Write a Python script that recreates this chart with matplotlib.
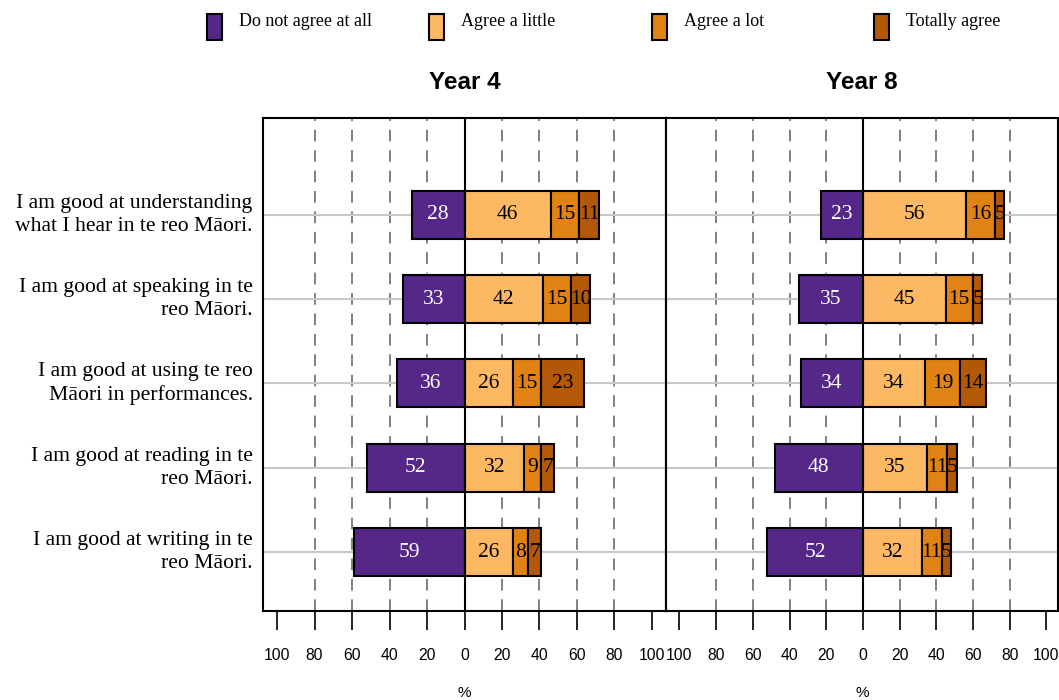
import numpy as np
import matplotlib
matplotlib.use('Agg')
import matplotlib.pyplot as plt
from matplotlib.patches import Rectangle

# data
statements = ['I am good at understanding\nwhat I hear in te reo Māori.',
              'I am good at speaking in te\nreo Māori.',
              'I am good at using te reo\nMāori in performances.',
              'I am good at reading in te\nreo Māori.',
              'I am good at writing in te\nreo Māori.']
levels = ['Do not agree at all', 'Agree a little', 'Agree a lot', 'Totally agree']
colors = ['#542788', '#fdb863', '#e08214', '#b35806']

year4_none = [28, 33, 36, 52, 59]
year4_little = [46, 42, 26, 32, 26]
year4_lot = [15, 15, 15, 9, 8]
year4_total = [11, 10, 23, 7, 7]

year8_none = [23, 35, 34, 48, 52]
year8_little = [56, 45, 34, 35, 32]
year8_lot = [16, 15, 19, 11, 11]
year8_total = [5, 5, 14, 5, 5]

panels = [('Year 4', [year4_none, year4_little, year4_lot, year4_total]),
          ('Year 8', [year8_none, year8_little, year8_lot, year8_total])]

ticks = [-100, -80, -60, -40, -20, 0, 20, 40, 60, 80, 100]
tick_labels = ['100', '80', '60', '40', '20', '0', '20', '40', '60', '80', '100']

serif = 'Liberation Serif'
sans = 'Liberation Sans'

fig = plt.figure(figsize=(10.59, 7.0), dpi=100)
axes = [fig.add_axes([263/1059, 89/700, 403/1059, 493/700]),
        fig.add_axes([666/1059, 89/700, 392/1059, 493/700])]
xlims = [(-107.5, 107.5), (-107.3, 106.3)]

ypos = np.arange(len(statements))[::-1]  # top statement at top

for k, (ax, (title, series)) in enumerate(zip(axes, panels)):
    ax.set_xlim(*xlims[k])
    ax.set_ylim(-0.70, 4 + 1.15)
    for x in [-80, -60, -40, -20, 20, 40, 60, 80]:
        ax.axvline(x, color='#808080', lw=1.4, ls=(0, (6, 4.5)), zorder=1)
    for y in ypos:
        ax.axhline(y, color='#c8c8c8', lw=1.5, zorder=1)
    ax.axvline(0, color='black', lw=1.5, zorder=4)

    neg = np.array(series[0])
    ax.barh(ypos, -neg, height=0.57, color=colors[0], edgecolor='black', lw=1.5, zorder=2)
    for y, v in zip(ypos, neg):
        ax.text(-v / 2, y, str(v), ha='center', va='center', color='white',
                family=serif, fontsize=15.5, zorder=5)
    left = np.zeros(len(statements))
    for j in range(1, 4):
        vals = np.array(series[j])
        ax.barh(ypos, vals, left=left, height=0.57, color=colors[j],
                edgecolor='black', lw=1.5, zorder=2)
        for y, l, v in zip(ypos, left, vals):
            ax.text(l + v / 2, y, str(v), ha='center', va='center', color='black',
                    family=serif, fontsize=15.5, zorder=5)
        left = left + vals

    ax.set_xticks(ticks)
    ax.set_xticklabels(tick_labels, family=sans, fontsize=11.3)
    ax.tick_params(axis='x', direction='out', length=14, width=1.2, pad=13)
    ax.set_yticks([])
    for s in ax.spines.values():
        s.set_linewidth(1.5)
    ax.set_title(title, family=sans, fontsize=17.5, fontweight='bold', pad=21)
    ax.set_xlabel('%', family=sans, fontsize=11, labelpad=16)

for y, lab in zip(ypos, statements):
    axes[0].text(-113, y, lab, ha='right', va='center', family=serif,
                 fontsize=15.6, linespacing=1.3)

# legend
for i, (lev, c) in enumerate(zip(levels, colors)):
    x0 = 207 + i * 222.3
    fig.patches.append(Rectangle((x0 / 1059, 1 - 40 / 700), 15 / 1059, 26 / 700,
                                 facecolor=c, edgecolor='black', lw=1.5,
                                 transform=fig.transFigure, figure=fig))
    fig.text((x0 + 32) / 1059, 1 - 22 / 700, lev, family=serif, fontsize=13,
             ha='left', va='center')

fig.savefig('out.png', dpi=100)
